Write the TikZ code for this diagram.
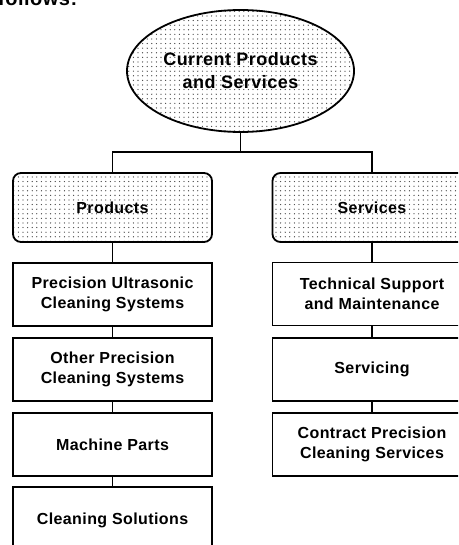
\documentclass[tikz,border=0pt]{standalone}
\usepackage{fontspec}
\setmainfont{Liberation Sans}[LetterSpace=2.5]
\usetikzlibrary{shapes.geometric,patterns.meta}

\tikzset{
  link/.style={line width=1.8pt, draw=black},
  dotfill/.style={pattern={Dots[distance=4.6pt, radius=0.65pt]}, pattern color=black!75},
  itembox/.style={draw=black, line width=1.8pt, fill=white, minimum width=199pt,
    minimum height=63pt, inner sep=0pt, align=center, font=\fontsize{16}{19.5}\bfseries\selectfont},
  groupbox/.style={itembox, dotfill, rounded corners=8pt, minimum height=69pt},
  rootshape/.style={ellipse, draw=black, line width=1.8pt, dotfill, minimum width=227pt,
    minimum height=122pt, inner sep=0pt, align=center, font=\fontsize{18}{23}\bfseries\selectfont}
}

\begin{document}
\begin{tikzpicture}[x=1pt, y=-1pt]
  \useasboundingbox (0,0) rectangle (458,545);
  \clip (0,0) rectangle (458,545);

  % run-in text above the chart
  \node[anchor=base west, inner sep=0pt, font=\fontsize{20}{24}\bfseries\selectfont] (lead) at (-2,6) {follows:};

  % root
  \node[rootshape] (root) at (240.5,71) {Current Products\\and Services};

  % two groups
  \node[groupbox] (prod) at (112.5,207.5) {Products};
  \node[groupbox] (serv) at (372,207.5) {Services};

  % product items
  \node[itembox] (p1) at (112.5,294.5) {Precision Ultrasonic\\Cleaning Systems};
  \node[itembox] (p2) at (112.5,369.5) {Other Precision\\Cleaning Systems};
  \node[itembox] (p3) at (112.5,444.5) {Machine Parts};
  \node[itembox, minimum height=66pt] (p4) at (112.5,520) {Cleaning Solutions};

  % service items
  \node[itembox] (s1) at (372,294) {Technical Support\\and Maintenance};
  \node[itembox] (s2) at (372,369.5) {Servicing};
  \node[itembox] (s3) at (372,444.5) {Contract Precision\\Cleaning Services};

  % connectors
  \coordinate (split) at (240.5,152);
  \draw[link] (root.south) -- (split);
  \draw[link] (split) -| (prod.north);
  \draw[link] (split) -| (serv.north);

  \draw[link] (prod.south) -- (p1.north);
  \draw[link] (p1.south) -- (p2.north);
  \draw[link] (p2.south) -- (p3.north);
  \draw[link] (p3.south) -- (p4.north);

  \draw[link] (serv.south) -- (s1.north);
  \draw[link] (s1.south) -- (s2.north);
  \draw[link] (s2.south) -- (s3.north);
\end{tikzpicture}
\end{document}
